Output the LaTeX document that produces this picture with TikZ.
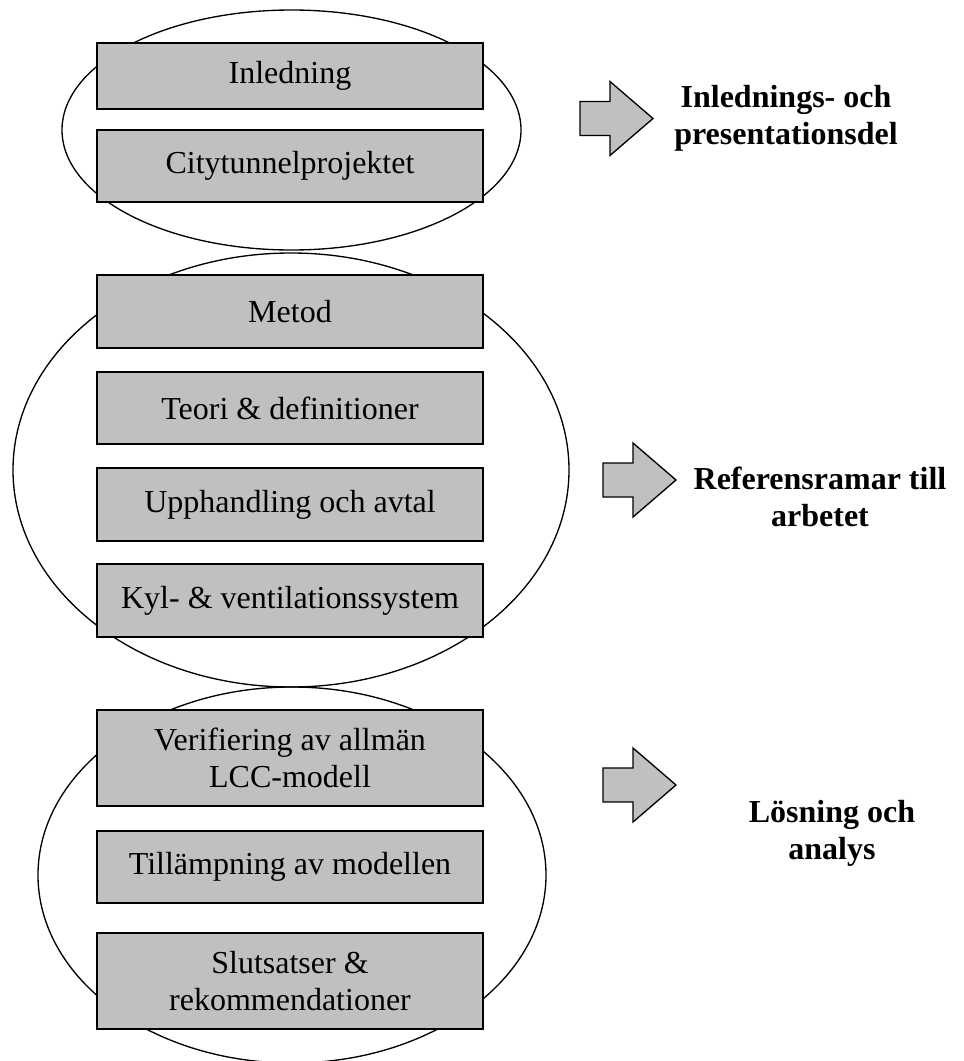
\documentclass[tikz,border=0pt]{standalone}
\usepackage{fontspec}
\setmainfont{Liberation Serif}
\usetikzlibrary{shapes.geometric}
\definecolor{boxgray}{HTML}{C0C0C0}

\begin{document}
\begin{tikzpicture}
  [x=0.375pt,y=-0.375pt,
   every node/.style={font=\fontsize{12}{13.8}\selectfont},
   part/.style={ellipse,draw,line width=0.5pt,inner sep=0pt},
   chapter/.style={rectangle,draw,fill=boxgray,line width=0.6pt,minimum width=144.75pt,inner sep=0pt,align=center},
   summary/.style={align=center,font=\fontsize{12}{13.8}\selectfont\bfseries}]
  \useasboundingbox (0,0) rectangle (964,1061);

  % the three parts
  \node[part,minimum width=172.125pt,minimum height=90pt] (pa) at (291.5,130) {};
  \node[part,minimum width=208.5pt,minimum height=162.75pt] (pb) at (291,470) {};
  \node[part,minimum width=190.5pt,minimum height=141pt] (pc) at (292,875) {};

  % chapters
  \node[chapter,minimum height=24.75pt] (inl) at (290,76) {Inledning};
  \node[chapter,minimum height=27pt] (city) at (290,166) {Citytunnelprojektet};
  \node[chapter,minimum height=27.375pt] (met) at (290,311.5) {Metod};
  \node[chapter,minimum height=27pt] (teo) at (290,408) {Teori \& definitioner};
  \node[chapter,minimum height=27.375pt] (upp) at (290,504.5) {Upphandling och avtal};
  \node[chapter,minimum height=27.375pt] (kyl) at (290,600.5) {Kyl- \& ventilationssystem};
  \node[chapter,minimum height=36pt] (ver) at (290,758) {Verifiering av allmän\\LCC-modell};
  \node[chapter,minimum height=27pt] (til) at (290,867) {Tillämpning av modellen};
  \node[chapter,minimum height=36pt] (slu) at (290,981) {Slutsatser \&\\rekommendationer};

  % block arrows and what each part is
  \foreach \ax/\ay in {580/118.5,603/480,603/785}
    \draw[fill=boxgray,line width=0.5pt] (\ax,\ay) ++(0,-17) -- ++(30,0) -- ++(0,-20)
      -- ++(43,37) -- ++(-43,37) -- ++(0,-20) -- ++(-30,0) -- cycle;

  \node[summary] (sa) at (786,118) {Inlednings- och\\presentationsdel};
  \node[summary] (sb) at (820,497) {Referensramar till\\arbetet};
  \node[summary] (sc) at (832,833) {Lösning och\\analys};

\end{tikzpicture}
\end{document}
